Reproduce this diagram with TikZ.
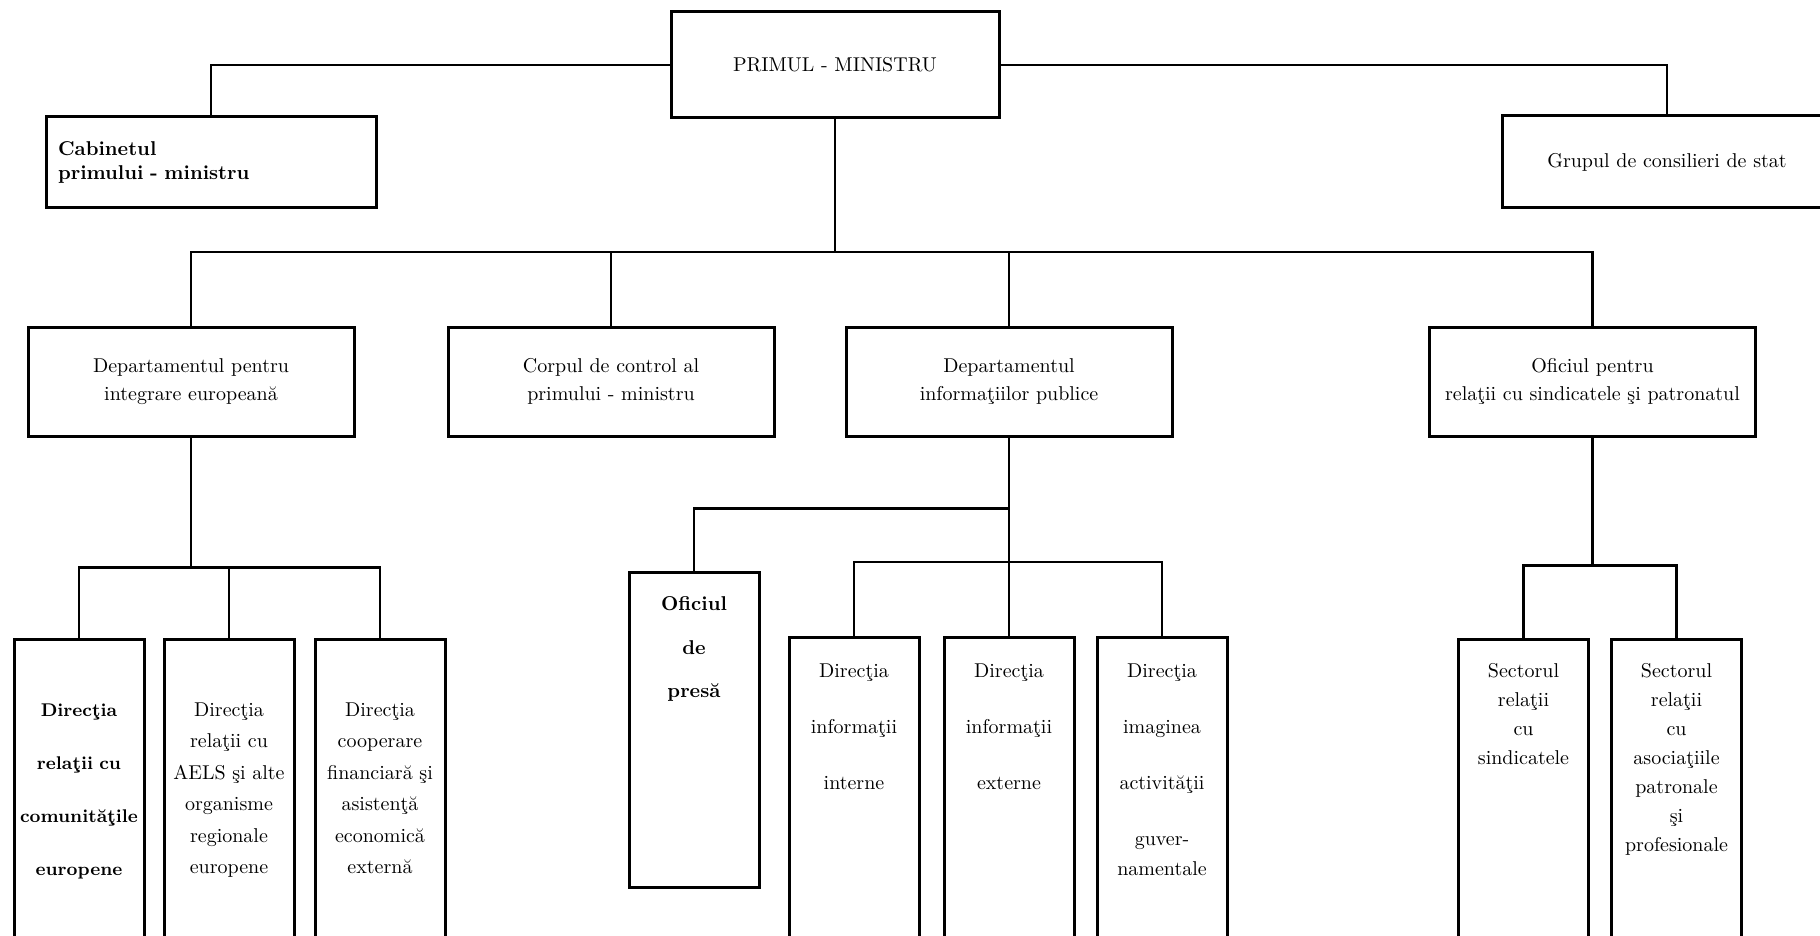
\documentclass[tikz,border=0pt]{standalone}
\usetikzlibrary{positioning}

\begin{document}
\begin{tikzpicture}[x=0.5pt, y=-0.5pt,
box/.style={draw,
rectangle,
line width=1.5pt,
minimum width=163pt,
minimum height=54.5pt,
inner sep=2pt,
align=center},
unit/.style={draw,
rectangle,
line width=1.5pt,
anchor=north,
text width=64pt,
inner xsep=0.5pt,
inner ysep=0pt,
text depth=150pt,
align=center},
link/.style={line width=1.3pt}
]
\useasboundingbox (0,0) rectangle (1820,936);
\clip (0,0) rectangle (1820,936);

\node[box, minimum width=164pt, minimum height=53pt] (pm) at (835,65) {PRIMUL - MINISTRU};
\node[box, minimum height=45.5pt, text width=153pt, inner xsep=6pt, align=left, font=\bfseries] (cab) at (211,162.5) {Cabinetul\\ primului - ministru};
\node[box, minimum width=165pt, minimum height=46pt] (grup) at (1667,162) {Grupul de consilieri de stat};

\node[box] (integ) at (191,381.5) {Departamentul pentru\\[2pt] integrare europeană};
\node[box] (corp) at (611,381.5) {Corpul de control al\\[2pt] primului - ministru};
\node[box] (dinfo) at (1009,381.5) {Departamentul\\[2pt] informaţiilor publice};
\node[box, inner xsep=1pt] (ofic) at (1592.5,381.5) {Oficiul pentru\\[2pt] relaţii cu sindicatele şi patronatul};

\node[unit, text height=38.5pt, font=\bfseries\fontsize{9.2}{12}\selectfont] (dir1) at (79,638) {Direcţia\\[14.5pt] relaţii cu\\[14.5pt] comunităţile\\[14.5pt] europene};
\node[unit, text height=38.5pt, right=8.5pt of dir1] (dir2) {Direcţia\\[3.7pt] relaţii cu\\[3.7pt] AELS şi alte\\[3.7pt] organisme\\[3.7pt] regionale\\[3.7pt] europene};
\node[unit, text height=38.5pt, right=9pt of dir2] (dir3) {Direcţia\\[3.7pt] cooperare\\[3.7pt] financiară şi\\[3.7pt] asistenţă\\[3.7pt] economică\\[3.7pt] externă};

\node[unit, text height=19pt, text depth=138.5pt, font=\bfseries] (presa) at (694,571) {Oficiul\\[9.75pt] de\\[9.75pt] presă};
\node[unit, text height=20pt] (extern) at (1009,636) {Direcţia\\[16pt] informaţii\\[16pt] externe};
\node[unit, text height=20pt, left=11pt of extern] (intern) {Direcţia\\[16pt] informaţii\\[16pt] interne};
\node[unit, text height=20pt, right=10pt of extern] (imag) {Direcţia\\[16pt] imaginea\\[16pt] activităţii\\[16pt] guver-\\[3pt] namentale};

\node[unit, text height=19pt] (sect1) at (1523.5,638) {Sectorul\\[2.5pt] relaţii\\[2.5pt] cu\\[2.5pt] sindicatele};
\node[unit, text height=19pt, right=10pt of sect1] (sect2) {Sectorul\\[2.5pt] relaţii\\[2.5pt] cu\\[2.5pt] asociaţiile\\[2.5pt] patronale\\[2.5pt] şi\\[2.5pt] profesionale};

\draw[link] (pm.west) -| (cab.north);
\draw[link] (pm.east) -| (grup.north);
\coordinate (hub) at (pm.south |- 0,252);
\draw[link] (pm.south) -- (hub);
\draw[link] (integ.north) |- (hub) -| (ofic.north);
\foreach \n in {corp, dinfo}
  \draw[link] (\n.north) -- (\n.north |- hub);

\draw[link] (integ.south) -- ++(0,130) coordinate (ibus);
\draw[link] (dir1.north) |- (ibus) -| (dir3.north);
\draw[link] (dir2.north) -- (dir2.north |- ibus);

\draw[link] (dinfo.south) -- (extern.north);
\draw[link] (dinfo.south) ++(0,71) -| (presa.north);
\draw[link] (intern.north) -- ++(0,-74) -| (imag.north);

\draw[link] (ofic.south) -- ++(0,128) coordinate (obus);
\draw[link] (sect1.north) |- (obus) -| (sect2.north);

\end{tikzpicture}
\end{document}
